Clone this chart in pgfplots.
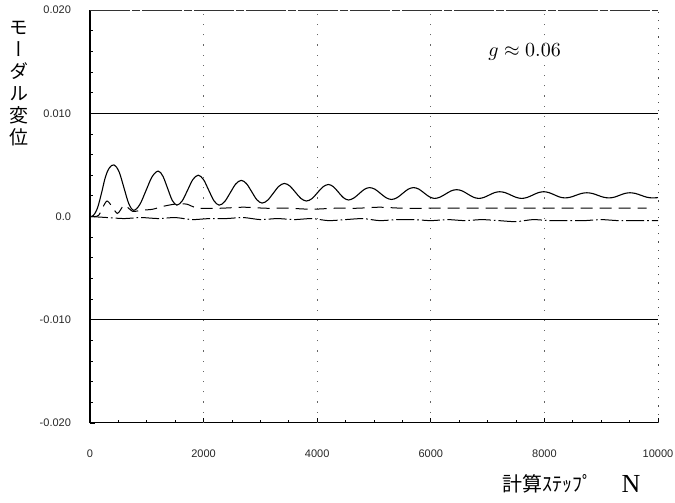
\documentclass[border=0pt]{standalone}
\usepackage{pgfplots}
\pgfplotsset{compat=1.18}
\usepackage{fontspec}
\setmainfont{Liberation Serif}
\newfontfamily\ticksf{Liberation Sans}
\newfontfamily\cjk{Noto Sans CJK JP}
\newfontfamily\cjkv[RawFeature=+vert]{Noto Sans CJK JP}
\begin{document}
\begin{tikzpicture}
\useasboundingbox (0,0) rectangle (337.5pt,251.5pt);
\begin{axis}[
  at={(45pt,40pt)}, anchor=south west,
  scale only axis, width=284pt, height=206.5pt,
  xmin=0, xmax=10000, ymin=-0.02, ymax=0.02,
  axis line style={draw=none},
  tick pos=left, tick align=inside,
  major tick length=2.5pt, minor tick length=1.5pt,
  tick style={black, line width=0.4pt},
  xtick={0,2000,4000,6000,8000,10000},
  xticklabels={0,2000,4000,6000,8000,10000},
  ytick={-0.02,-0.01,0,0.01,0.02},
  yticklabels={-0.020,-0.010,0.0,0.010,0.020},
  minor x tick num=3, minor y tick num=4,
  scaled ticks=false,
  ticklabel style={font=\ticksf\fontsize{5.5}{6}\selectfont, text=black!85},
  yticklabel style={anchor=east, xshift=-6pt},
  xticklabel style={anchor=north, yshift=-10pt},
  clip=false,
]
% frame
\draw[black, line width=0.5pt] (rel axis cs:0,0) -- (rel axis cs:0,1);
\draw[black, line width=0.5pt] (rel axis cs:0,0) -- (rel axis cs:1,0);
\draw[black!80, line width=0.45pt, dash pattern=on 20pt off 1pt on 4pt off 1pt] (rel axis cs:0,1) -- (rel axis cs:1,1);
\draw[black!70, line width=0.5pt, dash pattern=on 0.6pt off 3.5pt] (rel axis cs:1,0) -- (rel axis cs:1,1);
% grid
\draw[black, line width=0.5pt] (axis cs:0,0.01) -- (axis cs:10000,0.01);
\draw[black, line width=0.5pt] (axis cs:0,-0.01) -- (axis cs:10000,-0.01);
\foreach \xx in {2000,4000,6000,8000}{
  \edef\tmp{\noexpand\draw[black!60, line width=0.45pt, dash pattern=on 0.6pt off 4.5pt] (axis cs:\xx,-0.02) -- (axis cs:\xx,0.02);}\tmp
}
% solid curve
\addplot[black, line width=0.55pt, smooth, tension=0.55] coordinates {
(0,0) (60,0.0001) (130,0.0008) (200,0.0022) (270,0.0038) (340,0.0047) (423,0.0050)
(510,0.00436) (597,0.0028) (683,0.00124) (770,0.0006)
(877,0.00116) (985,0.0025) (1092,0.00384) (1199,0.0044)
(1282,0.00392) (1365,0.00275) (1447,0.00158) (1530,0.0011)
(1624,0.00152) (1718,0.00255) (1811,0.00358) (1905,0.0040)
(1998,0.00358) (2090,0.00255) (2183,0.00152) (2275,0.0011)
(2372,0.00145) (2469,0.0023) (2566,0.00315) (2663,0.0035)
(2755,0.00318) (2847,0.0024) (2938,0.00162) (3030,0.0013)
(3128,0.00158) (3226,0.00225) (3324,0.00292) (3422,0.0032)
(3519,0.00295) (3616,0.00235) (3713,0.00175) (3810,0.0015)
(3907,0.00173) (4004,0.0023) (4101,0.00287) (4198,0.0031)
(4286,0.00288) (4374,0.00235) (4462,0.00182) (4550,0.0016)
(4643,0.00178) (4736,0.0022) (4828,0.00262) (4921,0.0028)
(5018,0.00264) (5115,0.00223) (5212,0.00182) (5309,0.00165)
(5406,0.00182) (5503,0.00223) (5600,0.00264) (5697,0.0028)
(5790,0.00265) (5882,0.00228) (5975,0.00191) (6067,0.00175)
(6164,0.00188) (6261,0.00218) (6358,0.00248) (6455,0.0026)
(6552,0.00248) (6649,0.00218) (6746,0.00188) (6843,0.00175)
(6936,0.00185) (7028,0.00208) (7121,0.00231) (7213,0.0024)
(7310,0.00231) (7407,0.00208) (7504,0.00185) (7601,0.00175)
(7698,0.00185) (7795,0.00208) (7892,0.00231) (7989,0.0024)
(8082,0.00231) (8175,0.0021) (8267,0.00189) (8360,0.0018)
(8457,0.00187) (8554,0.00205) (8651,0.00223) (8748,0.0023)
(8845,0.00223) (8942,0.00205) (9039,0.00187) (9136,0.0018)
(9229,0.00187) (9321,0.00205) (9414,0.00223) (9506,0.0023)
(9604,0.00223) (9703,0.00205) (9801,0.00187) (9900,0.0018)
(10000,0.00183)
};
% dashed curve
\addplot[black, line width=0.5pt, smooth, tension=0.4, dash pattern=on 6pt off 3.5pt] coordinates {
(0,0) (150,0.0001) (300,0.0015) (480,0.0003) (600,0.0011) (750,0.0005)
(900,0.0006) (1100,0.0007) (1300,0.0010) (1500,0.0012) (1700,0.0012)
(1900,0.0008) (2300,0.0008) (2700,0.0009) (3100,0.0008) (3500,0.0008)
(3900,0.0007) (4300,0.0008) (4700,0.0008) (5100,0.0009) (5500,0.0008)
(5900,0.0008) (6300,0.0008) (6700,0.0008) (7100,0.0008) (7500,0.0008)
(7900,0.0008) (8300,0.0008) (8700,0.0008) (9100,0.0008) (9500,0.0008)
(9800,0.0008)
};
% dash-dot curve
\addplot[black, line width=0.5pt, smooth, tension=0.4, dash pattern=on 9pt off 1.5pt on 0.8pt off 1.5pt] coordinates {
(0,0) (300,-0.0001) (600,-0.0002) (900,-0.0001) (1200,-0.0002) (1500,-0.0001)
(1800,-0.0003) (2100,-0.0002) (2400,-0.0002) (2700,-0.0001) (3000,-0.0003)
(3300,-0.0002) (3600,-0.0003) (3900,-0.0002) (4200,-0.0004) (4500,-0.0003)
(4800,-0.0002) (5100,-0.0004) (5400,-0.0003) (5700,-0.0003) (6000,-0.0004)
(6300,-0.0003) (6600,-0.0004) (6900,-0.0003) (7200,-0.0004) (7500,-0.0005)
(7800,-0.0003) (8100,-0.0004) (8400,-0.0004) (8700,-0.0004) (9000,-0.0003)
(9300,-0.0004) (9600,-0.0004) (10000,-0.0004)
};
\node[font=\fontsize{10}{12}\selectfont\itshape] at (axis cs:7650,0.0159) {$g\approx 0.06$};
\end{axis}
% y label (vertical)
\node[font=\cjkv\fontsize{9.5}{11}\selectfont, align=center, anchor=north, inner sep=0pt] at (9.5pt,241pt) {モ\\ー\\ダ\\ル\\変\\位};
% x label
\node[font=\cjk\fontsize{10}{12}\selectfont, anchor=west, inner sep=0pt] at (251pt,9.5pt) {計算ｽﾃｯﾌﾟ};
\node[font=\fontsize{13}{14}\selectfont, inner sep=0pt] at (315.5pt,9.5pt) {N};
\end{tikzpicture}
\end{document}
